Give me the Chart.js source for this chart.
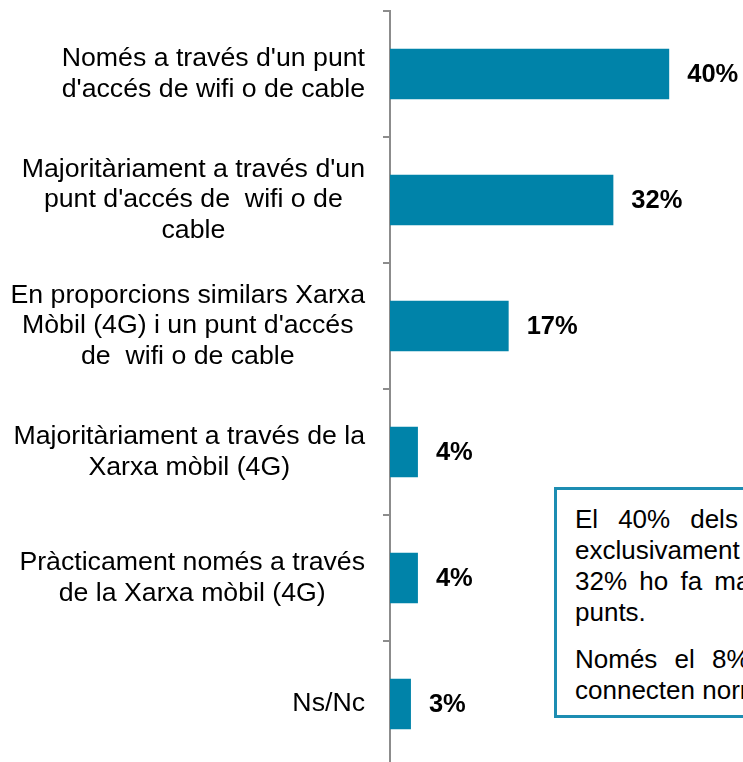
<!DOCTYPE html>
<html>
<head>
<meta charset="utf-8">
<script src="https://cdn.jsdelivr.net/npm/chart.js@4.4.1/dist/chart.umd.min.js"></script>
<style>
  html, body { margin: 0; padding: 0; background: #fff; overflow: hidden; width: 743px; height: 762px; }
  #wrap { position: absolute; left: 0; top: 0; width: 743px; height: 767px; }
  #note {
    position: absolute; left: 554px; top: 487px; width: 430px; height: 231px;
    border: 3px solid #1d8db2; background: #fff; overflow: hidden;
    font-family: 'Liberation Sans', Arial, sans-serif; font-size: 26px; color: #000;
    padding: 14px 0 0 18px; box-sizing: border-box;
  }
  #note div { white-space: nowrap; line-height: 31px; }
  #note .gap { margin-top: 16px; }
</style>
</head>
<body>
<div id="wrap"><canvas id="chart"></canvas></div>
<div id="note">
  <div style="word-spacing:12.8px">El 40% dels enquestats es connecta</div>
  <div style="word-spacing:6px">exclusivament a través d'un punt d'accés</div>
  <div style="word-spacing:5px">32% ho fa majoritàriament a través d'aquests</div>
  <div>punts.</div>
  <div class="gap" style="word-spacing:10px">Només el 8% dels enquestats es</div>
  <div>connecten normalment a través de la Xarxa mòbil.</div>
</div>
<script>
// categories (one array of lines per label) and values in %
const labels = [
    ["Només a través d'un punt", "d'accés de wifi o de cable"],
    ["Majoritàriament a través d'un", "punt d'accés de  wifi o de", "cable"],
    ["En proporcions similars Xarxa", "Mòbil (4G) i un punt d'accés", "de  wifi o de cable"],
    ["Majoritàriament a través de la", "Xarxa mòbil (4G)"],
    ["Pràcticament només a través", "de la Xarxa mòbil (4G)"],
    ["Ns/Nc"]
];
const values = [40, 32, 17, 4, 4, 3];

const BAR = '#0083a9';
const AXIS = '#8c8c8c';
const FONT = "'Liberation Sans', Arial, sans-serif";

// category labels: block right-aligned to the axis, lines centred inside it
const catLabels = {
    id: 'catLabels',
    afterDraw(chart) {
        const ctx = chart.ctx;
        const y = chart.scales.y;
        const right = chart.chartArea.left - 25;
        ctx.save();
        ctx.font = '26.7px ' + FONT;
        ctx.fillStyle = '#000';
        ctx.textAlign = 'center';
        ctx.textBaseline = 'middle';
        labels.forEach((lines, i) => {
            const w = Math.max(...lines.map(l => ctx.measureText(l).width));
            const cx = right - w / 2;
            const cy = y.getPixelForValue(i);
            lines.forEach((l, j) => {
                ctx.fillText(l, cx, cy + (j - (lines.length - 1) / 2) * 30.5);
            });
        });
        ctx.restore();
    }
};

const valueLabels = {
    id: 'valueLabels',
    afterDatasetsDraw(chart) {
        const ctx = chart.ctx;
        ctx.save();
        ctx.font = 'bold 25.5px ' + FONT;
        ctx.fillStyle = '#000';
        ctx.textAlign = 'left';
        ctx.textBaseline = 'middle';
        chart.getDatasetMeta(0).data.forEach((bar, i) => {
            ctx.fillText(values[i] + '%', bar.x + 18, bar.y + 1);
        });
        ctx.restore();
    }
};

new Chart(document.getElementById('chart'), {
    type: 'bar',
    data: {
        labels: labels.map(l => l.join(' ')),
        datasets: [{ data: values, backgroundColor: BAR, barPercentage: 0.4, categoryPercentage: 1 }]
    },
    options: {
        indexAxis: 'y',
        responsive: true,
        maintainAspectRatio: false,
        animation: false,
        layout: { padding: { top: 11, right: 4, left: 0, bottom: 0 } },
        plugins: { legend: { display: false }, tooltip: { enabled: false } },
        scales: {
            x: { display: false, min: 0, max: 50 },
            y: {
                afterFit(scale) { scale.width = 390; },
                ticks: { display: false },
                grid: { drawOnChartArea: false, drawTicks: true, tickLength: 7, color: AXIS, lineWidth: 2 },
                border: { color: AXIS, width: 2 }
            }
        }
    },
    plugins: [catLabels, valueLabels]
});
</script>
</body>
</html>
